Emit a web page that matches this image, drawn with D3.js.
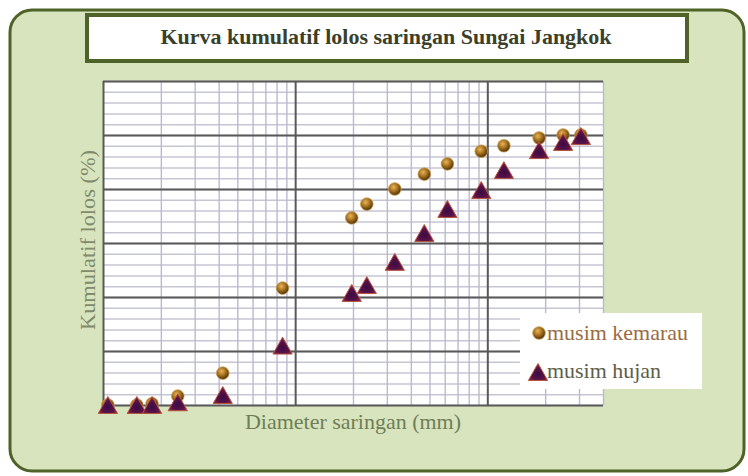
<!DOCTYPE html>
<html>
<head>
<meta charset="utf-8">
<script src="https://cdn.jsdelivr.net/npm/d3@7"></script>
<style>
  html, body { margin: 0; padding: 0; background: #ffffff; }
  svg { display: block; }
</style>
</head>
<body>
<script>
// ---- Data ----
const diameters = [0.0106, 0.015, 0.018, 0.0245, 0.042, 0.086, 0.197, 0.236, 0.33, 0.47, 0.62, 0.93, 1.22, 1.86, 2.48, 3.07];
const musimKemarau = [0, 0, 0.5, 3.3, 11.8, 43.3, 69.3, 74.4, 80, 85.5, 89.3, 94, 96, 98.9, 100, 100];
const musimHujan = [0, 0, 0, 1, 3.7, 22, 41.5, 44.4, 53, 63.7, 72.6, 79.6, 87, 94.4, 97.4, 99.6];
const seriesNames = ["musim kemarau", "musim hujan"];
const titleText = "Kurva kumulatif lolos saringan Sungai Jangkok";
const xTitle = "Diameter saringan (mm)";
const yTitle = "Kumulatif lolos (%)";
const xDomain = [0.01, 4];
const yDomain = [0, 120];
const yMajorTicks = [0, 20, 40, 60, 80, 100, 120];
const yMinorTicks = d3.range(0, 121, 4);
const xMajorTicks = [0.01, 0.1, 1];
const xMinorTicks = [0.02,0.03,0.04,0.05,0.06,0.07,0.08,0.09,0.2,0.3,0.4,0.5,0.6,0.7,0.8,0.9,2,3,4];

// ---- Layout ----
const W = 748, H = 476;
const plot = { left: 103, right: 603, top: 81, bottom: 405 };

const svg = d3.select("body").append("svg").attr("width", W).attr("height", H);
const defs = svg.append("defs");

// gradients
const rg = defs.append("radialGradient").attr("id", "ball").attr("cx", "40%").attr("cy", "35%").attr("r", "65%");
rg.append("stop").attr("offset", "0%").attr("stop-color", "#e8b45a");
rg.append("stop").attr("offset", "50%").attr("stop-color", "#a7731f");
rg.append("stop").attr("offset", "100%").attr("stop-color", "#4e3208");

const tg = defs.append("radialGradient").attr("id", "tri").attr("cx", "50%").attr("cy", "62%").attr("r", "60%");
tg.append("stop").attr("offset", "0%").attr("stop-color", "#3a0c44");
tg.append("stop").attr("offset", "60%").attr("stop-color", "#5a1248");
tg.append("stop").attr("offset", "100%").attr("stop-color", "#962c3c");

// background
svg.append("rect").attr("width", W).attr("height", H).attr("fill", "#ffffff");
svg.append("rect").attr("x", 10).attr("y", 10).attr("width", 734).attr("height", 461)
  .attr("rx", 22).attr("ry", 22)
  .attr("fill", "#d7e4bd").attr("stroke", "#4f6228").attr("stroke-width", 3);

// title box
svg.append("rect").attr("x", 87).attr("y", 15).attr("width", 600).attr("height", 46)
  .attr("fill", "#ffffff").attr("stroke", "#4f6228").attr("stroke-width", 4);
svg.append("text").attr("x", 386).attr("y", 44).attr("text-anchor", "middle")
  .attr("font-family", "'Liberation Serif', 'DejaVu Serif', serif").attr("font-weight", "bold")
  .attr("font-size", 21).attr("fill", "#3a4029")
  .attr("textLength", 451).attr("lengthAdjust", "spacingAndGlyphs")
  .text(titleText);

// scales
const x = d3.scaleLog().domain(xDomain).range([plot.left, plot.right]);
const y = d3.scaleLinear().domain(yDomain).range([plot.bottom, plot.top]);
const pw = plot.right - plot.left, ph = plot.bottom - plot.top;

// plot background
svg.append("rect").attr("x", plot.left).attr("y", plot.top).attr("width", pw).attr("height", ph).attr("fill", "#ffffff");

function styleGrid(g, color, width) {
  g.select(".domain").remove();
  g.selectAll(".tick line").attr("stroke", color).attr("stroke-width", width);
  g.selectAll(".tick text").remove();
}

// minor horizontal grid
svg.append("g").attr("transform", `translate(${plot.left},0)`)
  .call(d3.axisLeft(y).tickValues(yMinorTicks).tickSize(-pw).tickFormat(""))
  .call(g => styleGrid(g, "#c6c5d3", 1.5));
// minor vertical grid
svg.append("g").attr("transform", `translate(0,${plot.bottom})`)
  .call(d3.axisBottom(x).tickValues(xMinorTicks).tickSize(-ph).tickFormat(""))
  .call(g => styleGrid(g, "#bcb9ce", 1.4));
// major horizontal grid
svg.append("g").attr("transform", `translate(${plot.left},0)`)
  .call(d3.axisLeft(y).tickValues(yMajorTicks).tickSize(-pw).tickFormat(""))
  .call(g => styleGrid(g, "#595959", 2));
// major vertical grid
svg.append("g").attr("transform", `translate(0,${plot.bottom})`)
  .call(d3.axisBottom(x).tickValues(xMajorTicks).tickSize(-ph).tickFormat(""))
  .call(g => styleGrid(g, "#595959", 2));

// triangle symbol centred on its bounding box
const triSymbol = {
  draw(ctx, size) {
    const w = Math.sqrt(size * 4 / Math.sqrt(3));
    const h = w * 0.88;
    ctx.moveTo(0, -h / 2);
    ctx.lineTo(w / 2, h / 2);
    ctx.lineTo(-w / 2, h / 2);
    ctx.closePath();
  }
};
const triPath = d3.symbol().type(triSymbol).size(160)();

const kData = diameters.map((d, i) => ({ d, v: musimKemarau[i] }));
const hData = diameters.map((d, i) => ({ d, v: musimHujan[i] }));

svg.append("g").selectAll("circle").data(kData).join("circle")
  .attr("cx", d => x(d.d)).attr("cy", d => y(d.v)).attr("r", 6.3)
  .attr("fill", "url(#ball)").attr("stroke", "#c89a50").attr("stroke-width", 0.8);

svg.append("g").selectAll("path").data(hData).join("path")
  .attr("transform", d => `translate(${x(d.d)},${y(d.v)})`)
  .attr("d", triPath)
  .attr("fill", "url(#tri)").attr("stroke", "#b4543c").attr("stroke-width", 1);

// axis titles
svg.append("text").attr("x", 353).attr("y", 429).attr("text-anchor", "middle")
  .attr("font-family", "'Liberation Serif', serif").attr("font-size", 21).attr("fill", "#6f7d58")
  .attr("textLength", 216).attr("lengthAdjust", "spacingAndGlyphs")
  .text(xTitle);
svg.append("text").attr("transform", "translate(95,240) rotate(-90)").attr("text-anchor", "middle")
  .attr("font-family", "'Liberation Serif', serif").attr("font-size", 21).attr("fill", "#7f8b6c")
  .attr("textLength", 180).attr("lengthAdjust", "spacingAndGlyphs")
  .text(yTitle);

// legend
const lg = svg.append("g");
lg.append("rect").attr("x", 520).attr("y", 313).attr("width", 182).attr("height", 76).attr("fill", "#ffffff");
lg.append("circle").attr("cx", 539).attr("cy", 333).attr("r", 6.3)
  .attr("fill", "url(#ball)").attr("stroke", "#c89a50").attr("stroke-width", 0.8);
lg.append("path").attr("transform", "translate(538,372)").attr("d", triPath)
  .attr("fill", "url(#tri)").attr("stroke", "#b4543c").attr("stroke-width", 1);
const legendColors = ["#9a6b3e", "#5d5e48"];
lg.selectAll("text.lt").data(seriesNames).join("text").attr("class", "lt")
  .attr("x", 547).attr("y", (d, i) => 340 + i * 38)
  .attr("font-family", "'Liberation Serif', serif").attr("font-size", 22)
  .attr("fill", (d, i) => legendColors[i])
  .attr("textLength", (d, i) => i === 0 ? 141 : 114).attr("lengthAdjust", "spacingAndGlyphs")
  .text(d => d);
</script>
</body>
</html>
